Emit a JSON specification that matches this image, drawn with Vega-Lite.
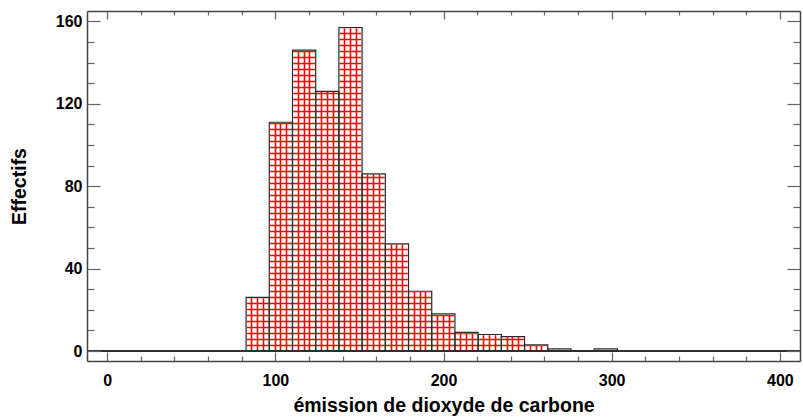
{
  "$schema": "https://vega.github.io/schema/vega-lite/v6.json",
  "width": 713,
  "height": 350,
  "autosize": {"type": "none"},
  "padding": {"left": 87, "top": 11, "right": 3, "bottom": 58},
  "background": "white",
  "config": {
    "view": {"stroke": null},
    "font": "Liberation Sans"
  },
  "data": {
    "values": [
      {"bin_start": 82.6, "bin_end": 96.4, "count": 26},
      {"bin_start": 96.4, "bin_end": 110.2, "count": 111},
      {"bin_start": 110.2, "bin_end": 124.0, "count": 146},
      {"bin_start": 124.0, "bin_end": 137.8, "count": 126},
      {"bin_start": 137.8, "bin_end": 151.6, "count": 157},
      {"bin_start": 151.6, "bin_end": 165.4, "count": 86},
      {"bin_start": 165.4, "bin_end": 179.2, "count": 52},
      {"bin_start": 179.2, "bin_end": 193.0, "count": 29},
      {"bin_start": 193.0, "bin_end": 206.8, "count": 18},
      {"bin_start": 206.8, "bin_end": 220.6, "count": 9},
      {"bin_start": 220.6, "bin_end": 234.4, "count": 8},
      {"bin_start": 234.4, "bin_end": 248.2, "count": 7},
      {"bin_start": 248.2, "bin_end": 262.0, "count": 3},
      {"bin_start": 262.0, "bin_end": 275.8, "count": 1},
      {"bin_start": 275.8, "bin_end": 289.6, "count": 0},
      {"bin_start": 289.6, "bin_end": 303.4, "count": 1}
    ]
  },
  "resolve": {"axis": {"x": "independent", "y": "independent"}},
  "layer": [
    {
      "description": "Crosshatch of the bars: red grid lines behind, white covers above each bar",
      "mark": {"type": "rect", "fill": "white", "stroke": "white", "strokeWidth": 1.5, "clip": true},
      "encoding": {
        "x": {
          "field": "bin_start", "type": "quantitative",
          "scale": {"domain": [-12, 412], "nice": false, "zero": false},
          "axis": {
            "orient": "bottom", "grid": true, "labels": false, "ticks": false, "domain": false,
            "title": null, "zindex": 0, "gridColor": "#ff0000", "gridOpacity": 1, "gridWidth": 1.6,
            "values": [85.526, 89.094, 92.662, 99.798, 102.771, 106.339, 113.475, 117.044, 120.017, 127.153, 130.721, 134.289, 140.830, 144.398, 147.966, 154.508, 158.076, 161.644, 168.780, 171.753, 175.321, 182.457, 186.025, 188.999, 196.135, 199.703, 203.271, 209.812, 213.380, 216.948, 223.490, 227.058, 230.626, 237.762, 240.735, 244.303, 251.439, 255.007, 257.980, 265.116, 268.684, 272.252, 278.794, 282.362, 285.930, 292.471, 296.039, 299.607]
          }
        },
        "x2": {"field": "bin_end"},
        "y": {
          "field": "count", "type": "quantitative",
          "scale": {"domain": [-4.85, 165], "nice": false, "zero": false},
          "axis": {
            "orient": "left", "grid": true, "labels": false, "ticks": false, "domain": false,
            "title": null, "zindex": 0, "gridColor": "#ff0000", "gridOpacity": 1, "gridWidth": 1.6,
            "values": [2.912, 5.823, 8.735, 11.647, 14.559, 17.470, 20.382, 23.294, 26.205, 29.117, 32.029, 34.941, 37.852, 40.764, 43.676, 46.587, 49.499, 52.411, 55.323, 58.234, 61.146, 64.058, 66.969, 69.881, 72.793, 75.705, 78.616, 81.528, 84.440, 87.351, 90.263, 93.175, 96.087, 98.998, 101.910, 104.822, 107.733, 110.645, 113.557, 116.469, 119.380, 122.292, 125.204, 128.115, 131.027, 133.939, 136.851, 139.762, 142.674, 145.586, 148.497, 151.409, 154.321, 157.233]
          }
        },
        "y2": {"datum": 170}
      }
    },
    {
      "data": {"values": [{}]},
      "mark": {"type": "rect", "fill": "white", "stroke": "white", "strokeWidth": 1.5, "clip": true},
      "encoding": {
        "x": {"datum": -20, "type": "quantitative", "axis": null},
        "x2": {"datum": 82.6},
        "y": {"datum": -10, "type": "quantitative", "axis": null},
        "y2": {"datum": 170}
      }
    },
    {
      "data": {"values": [{}]},
      "mark": {"type": "rect", "fill": "white", "stroke": "white", "strokeWidth": 1.5, "clip": true},
      "encoding": {
        "x": {"datum": 303.4, "type": "quantitative", "axis": null},
        "x2": {"datum": 420},
        "y": {"datum": -10, "type": "quantitative", "axis": null},
        "y2": {"datum": 170}
      }
    },
    {
      "data": {"values": [{}]},
      "mark": {"type": "rect", "fill": "white", "clip": true},
      "encoding": {
        "x": {"datum": -20, "type": "quantitative", "axis": null},
        "x2": {"datum": 420},
        "y": {"datum": -10, "type": "quantitative", "axis": null},
        "y2": {"datum": 0}
      }
    },
    {
      "mark": {"type": "rule", "color": "#333333", "strokeWidth": 1.2},
      "encoding": {"y": {"datum": 0, "type": "quantitative", "axis": null}}
    },
    {
      "description": "Bar outlines with the bottom and left axes",
      "mark": {"type": "rect", "fill": null, "stroke": "#2a2a2a", "strokeWidth": 1.2},
      "encoding": {
        "x": {
          "field": "bin_start", "type": "quantitative",
          "axis": {
            "orient": "bottom", "zindex": 1, "grid": false,
            "values": [0, 20, 40, 60, 80, 100, 120, 140, 160, 180, 200, 220, 240, 260, 280, 300, 320, 340, 360, 380, 400],
            "labelExpr": "datum.value % 100 === 0 ? datum.label : ''",
            "tickSize": {"condition": {"test": "datum.value % 100 === 0", "value": -9}, "value": -5},
            "tickColor": "#666666", "tickWidth": 1.2,
            "domainColor": "#444444", "domainWidth": 1.5,
            "labelFont": "Liberation Sans", "labelFontSize": 16, "labelFontWeight": "bold", "labelColor": "black",
            "labelPadding": 20, "labelFlush": false,
            "title": "émission de dioxyde de carbone",
            "titleFont": "Liberation Sans", "titleFontSize": 19.5, "titleFontWeight": "bold", "titleColor": "black",
            "titlePadding": 8
          }
        },
        "x2": {"field": "bin_end"},
        "y": {
          "field": "count", "type": "quantitative",
          "axis": {
            "orient": "left", "zindex": 1, "grid": false,
            "values": [0, 10, 20, 30, 40, 50, 60, 70, 80, 90, 100, 110, 120, 130, 140, 150, 160],
            "labelExpr": "datum.value % 40 === 0 ? datum.label : ''",
            "tickSize": {"condition": {"test": "datum.value % 40 === 0", "value": -13}, "value": -7},
            "tickColor": "#666666", "tickWidth": 1.2,
            "domainColor": "#444444", "domainWidth": 1.5,
            "labelFont": "Liberation Sans", "labelFontSize": 16, "labelFontWeight": "bold", "labelColor": "black",
            "labelPadding": 18, "labelFlush": false,
            "title": "Effectifs",
            "titleFont": "Liberation Sans", "titleFontSize": 19.5, "titleFontWeight": "bold", "titleColor": "black",
            "titlePadding": 26
          }
        },
        "y2": {"datum": 0}
      }
    },
    {
      "description": "Top and right frame ticks",
      "mark": {"type": "point", "opacity": 0},
      "encoding": {
        "x": {
          "field": "bin_start", "type": "quantitative",
          "axis": {
            "orient": "top", "zindex": 1, "grid": false, "labels": false, "title": null,
            "values": [0, 20, 40, 60, 80, 100, 120, 140, 160, 180, 200, 220, 240, 260, 280, 300, 320, 340, 360, 380, 400],
            "tickSize": {"condition": {"test": "datum.value % 100 === 0", "value": -8}, "value": -4},
            "tickColor": "#666666", "tickWidth": 1.2,
            "domainColor": "#444444", "domainWidth": 1.5
          }
        },
        "y": {
          "field": "count", "type": "quantitative",
          "axis": {
            "orient": "right", "zindex": 1, "grid": false, "labels": false, "title": null,
            "values": [0, 10, 20, 30, 40, 50, 60, 70, 80, 90, 100, 110, 120, 130, 140, 150, 160],
            "tickSize": {"condition": {"test": "datum.value % 40 === 0", "value": -13}, "value": -7},
            "tickColor": "#666666", "tickWidth": 1.2,
            "domainColor": "#444444", "domainWidth": 1.5
          }
        }
      }
    }
  ]
}
